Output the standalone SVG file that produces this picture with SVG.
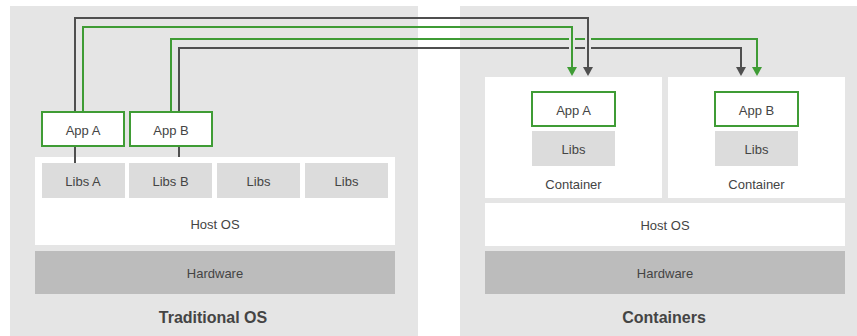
<svg xmlns="http://www.w3.org/2000/svg" width="857" height="336" viewBox="0 0 857 336">
<defs>
<style>
.panel{fill:#e5e5e5}
.white{fill:#ffffff}
.libs{fill:#dcdcdc}
.hw{fill:#bcbcbc}
.app{fill:#ffffff;stroke:#3f9c35;stroke-width:2}
.t{font-family:"Liberation Sans",Arial,sans-serif;font-size:13px;fill:#444;text-anchor:middle;dominant-baseline:central}
.title{font-family:"Liberation Sans",Arial,sans-serif;font-size:16px;font-weight:bold;fill:#444;text-anchor:middle;dominant-baseline:central}
.g{fill:none;stroke:#4f4f4f;stroke-width:2}
.gr{fill:none;stroke:#3f9c35;stroke-width:2}
</style>
<marker id="mg" viewBox="0 0 9 10" refX="0" refY="5" markerWidth="9" markerHeight="10" markerUnits="userSpaceOnUse" orient="auto"><path d="M0,0 L9,5 L0,10 z" fill="#4f4f4f"/></marker>
<marker id="mgr" viewBox="0 0 9 10" refX="0" refY="5" markerWidth="9" markerHeight="10" markerUnits="userSpaceOnUse" orient="auto"><path d="M0,0 L9,5 L0,10 z" fill="#3f9c35"/></marker>
</defs>
<rect width="857" height="336" fill="#ffffff"/>
<g id="panel-traditional">
<rect class="panel" x="10" y="6" width="408" height="330"/>
<text class="title" x="213" y="317">Traditional OS</text>
</g>
<g id="panel-containers">
<rect class="panel" x="460" y="6" width="397" height="330"/>
<text class="title" x="664" y="317">Containers</text>
</g>
<g id="host-os-left">
<rect class="white" x="35" y="157" width="360" height="88"/>
<text class="t" x="215" y="224">Host OS</text>
</g>
<g id="libs-a-left"><rect class="libs" x="42" y="163" width="83" height="35"/><text class="t" x="83" y="181">Libs A</text></g>
<g id="libs-b-left"><rect class="libs" x="129" y="163" width="83" height="35"/><text class="t" x="170.5" y="181">Libs B</text></g>
<g id="libs-3-left"><rect class="libs" x="217" y="163" width="83" height="35"/><text class="t" x="258.5" y="181">Libs</text></g>
<g id="libs-4-left"><rect class="libs" x="305" y="163" width="83" height="35"/><text class="t" x="346.5" y="181">Libs</text></g>
<g id="hardware-left">
<rect class="hw" x="35" y="251" width="360" height="43"/>
<text class="t" x="215" y="273">Hardware</text>
</g>
<g id="app-a-left"><rect class="app" x="42" y="112" width="82" height="34"/><text class="t" x="83" y="130">App A</text></g>
<g id="app-b-left"><rect class="app" x="130" y="112" width="82" height="34"/><text class="t" x="171" y="130">App B</text></g>
<g id="container-a">
<rect class="white" x="485" y="77" width="177" height="121"/>
<text class="t" x="573.5" y="184">Container</text>
</g>
<g id="container-b">
<rect class="white" x="668" y="77" width="177" height="121"/>
<text class="t" x="756.5" y="184">Container</text>
</g>
<g id="app-a-right"><rect class="app" x="532" y="92" width="83" height="34"/><text class="t" x="573.5" y="110">App A</text></g>
<g id="libs-a-right"><rect class="libs" x="532" y="131" width="83" height="35"/><text class="t" x="573.5" y="149">Libs</text></g>
<g id="app-b-right"><rect class="app" x="715" y="92" width="83" height="34"/><text class="t" x="756.5" y="110">App B</text></g>
<g id="libs-b-right"><rect class="libs" x="715" y="131" width="83" height="35"/><text class="t" x="756.5" y="149">Libs</text></g>
<g id="host-os-right">
<rect class="white" x="485" y="203" width="360" height="43"/>
<text class="t" x="665" y="225">Host OS</text>
</g>
<g id="hardware-right">
<rect class="hw" x="485" y="251" width="360" height="43"/>
<text class="t" x="665" y="273">Hardware</text>
</g>
<g id="connectors">
<path class="g" d="M75,111 V18 H588 V67" marker-end="url(#mg)"/>
<path class="gr" d="M83,111 V27 H572 V67" marker-end="url(#mgr)"/>
<path class="gr" d="M171,111 V39 H569 M575,39 H585 M591,39 H757 V67" marker-end="url(#mgr)"/>
<path class="g" d="M179,111 V48 H569 M575,48 H585 M591,48 H741 V67" marker-end="url(#mg)"/>
<path class="g" d="M75,147 V163"/>
<path class="g" d="M179,147 V157"/>
</g>
</svg>
